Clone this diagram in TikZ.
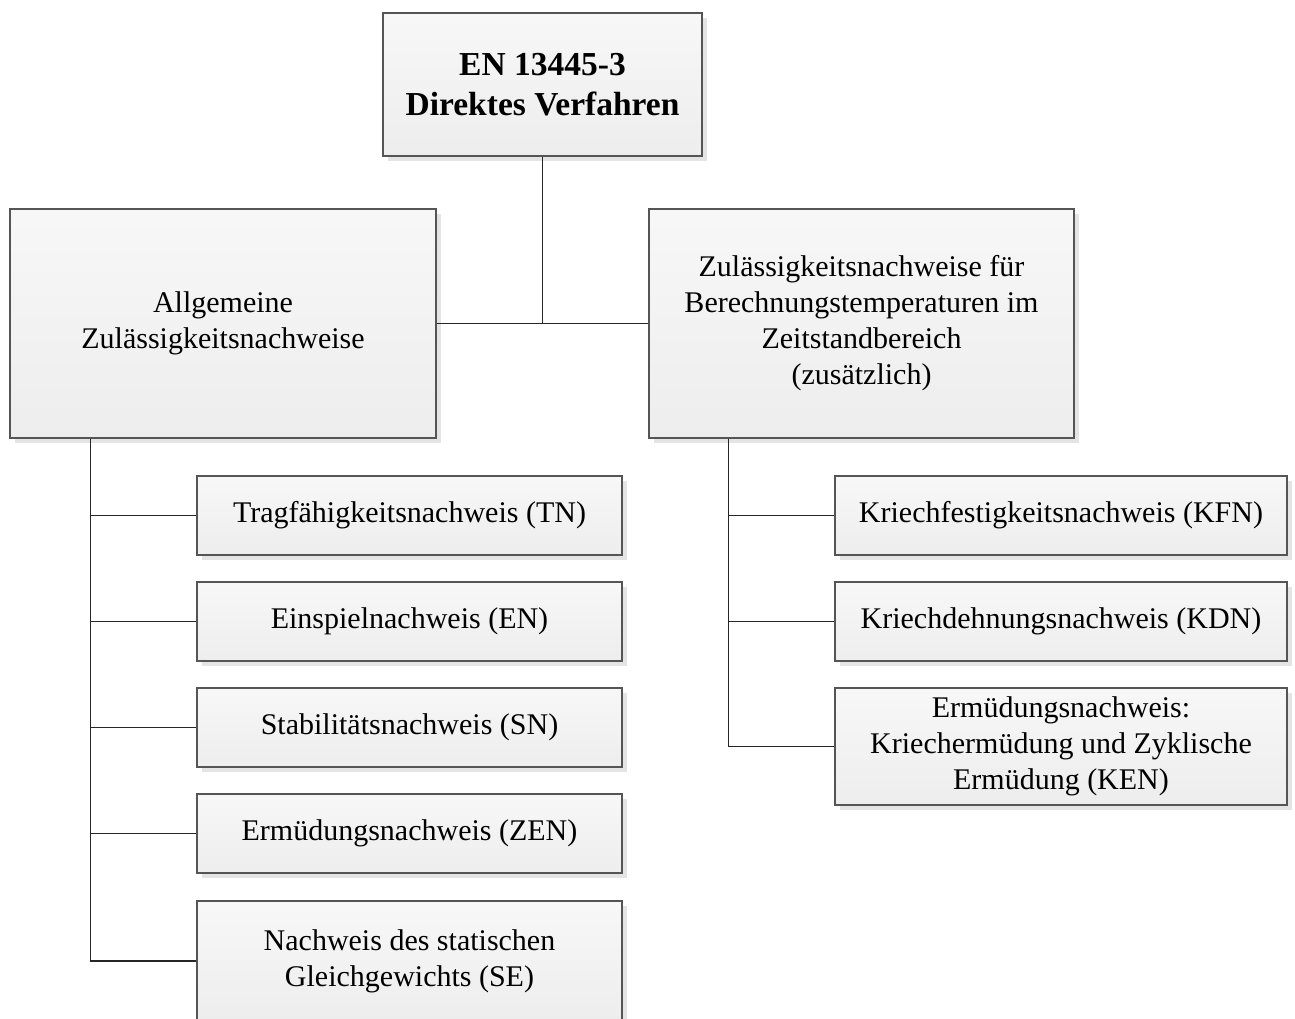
\documentclass[tikz,border=0pt]{standalone}
\usepackage{fontspec}
\setmainfont{Liberation Serif}
\usetikzlibrary{shadows}
\definecolor{boxline}{HTML}{555555}
\definecolor{shadowgray}{HTML}{E4E4E4}
\tikzset{
  box/.style={draw=boxline, line width=1.4pt, top color=white!97!black, bottom color=white!93!black,
    inner sep=0pt, align=center, font=\fontsize{30}{36}\selectfont,
    drop shadow={shadow xshift=5pt, shadow yshift=-5pt, fill=shadowgray, opacity=1}},
  link/.style={draw=black!85, line width=1.3pt}
}
\begin{document}
\begin{tikzpicture}[x=1pt,y=-1pt]
\useasboundingbox[fill=white] (0,0) rectangle (1295,1019);
\node[box, minimum width=319pt, minimum height=143pt, font=\bfseries\fontsize{33.5}{40}\selectfont] (top) at (542.5,84.5) {EN 13445-3\\Direktes Verfahren};
\node[box, minimum width=426pt, minimum height=229pt] (L) at (223,323.5) {Allgemeine\\Zulässigkeitsnachweise};
\node[box, minimum width=425pt, minimum height=229pt] (R) at (861.5,323.5) {Zulässigkeitsnachweise für\\Berechnungstemperaturen im\\Zeitstandbereich\\(zusätzlich)};
\node[box, minimum width=425pt, minimum height=79pt] (TN) at (409.5,515.5) {Tragfähigkeitsnachweis (TN)};
\node[box, minimum width=425pt, minimum height=79pt] (EN) at (409.5,621.5) {Einspielnachweis (EN)};
\node[box, minimum width=425pt, minimum height=79pt] (SN) at (409.5,727.5) {Stabilitätsnachweis (SN)};
\node[box, minimum width=425pt, minimum height=79pt] (ZEN) at (409.5,833.5) {Ermüdungsnachweis (ZEN)};
\node[box, minimum width=425pt, minimum height=120pt] (SE) at (409.5,961) {Nachweis des statischen\\Gleichgewichts (SE)};
\node[box, minimum width=452pt, minimum height=79pt] (KFN) at (1061,515.5) {Kriechfestigkeitsnachweis (KFN)};
\node[box, minimum width=452pt, minimum height=79pt] (KDN) at (1061,621.5) {Kriechdehnungsnachweis (KDN)};
\node[box, minimum width=452pt, minimum height=117pt] (KEN) at (1061,746.5) {Ermüdungsnachweis:\\Kriechermüdung und Zyklische\\Ermüdung (KEN)};
\coordinate (lt) at ([xshift=81pt]L.south west);
\coordinate (rt) at ([xshift=80pt]R.south west);
\draw[link] (top.south) -- (top.south |- L.east);
\draw[link] (L.east) -- (R.west);
\draw[link] (lt) |- (SE.west);
\draw[link] (lt |- TN.west) -- (TN.west);
\draw[link] (lt |- EN.west) -- (EN.west);
\draw[link] (lt |- SN.west) -- (SN.west);
\draw[link] (lt |- ZEN.west) -- (ZEN.west);
\draw[link] (rt) |- (KEN.west);
\draw[link] (rt |- KFN.west) -- (KFN.west);
\draw[link] (rt |- KDN.west) -- (KDN.west);
\end{tikzpicture}
\end{document}
